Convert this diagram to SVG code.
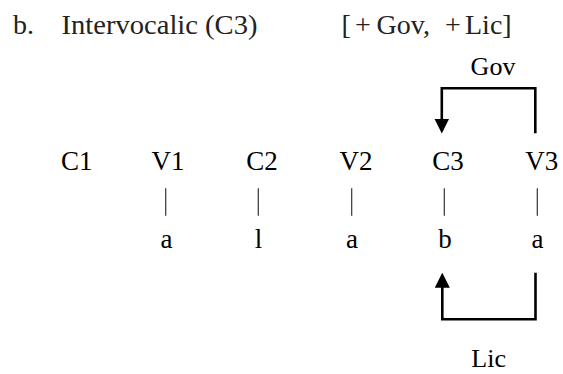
<svg xmlns="http://www.w3.org/2000/svg" width="563" height="374" viewBox="0 0 563 374">
  <style>
    .hdr { font-family: "Liberation Serif", "Times New Roman", serif; font-size: 28px; fill: #222; }
    .lbl { font-family: "Liberation Serif", "Times New Roman", serif; font-size: 27px; fill: #000; text-anchor: middle; }
    .tag { font-family: "Liberation Serif", "Times New Roman", serif; font-size: 26px; fill: #000; text-anchor: middle; }
    .bar { stroke: #333; stroke-width: 1.2; fill: none; }
    .arc { stroke: #000; stroke-width: 2.6; fill: none; stroke-linejoin: miter; }
  </style>
  <defs>
    <marker id="head" markerUnits="userSpaceOnUse" markerWidth="15" markerHeight="15" viewBox="0 0 15 15" refX="11" refY="7.5" orient="auto">
      <path d="M0,0 L15,7.5 L0,15 z" fill="#000"/>
    </marker>
  </defs>
  <rect width="563" height="374" fill="#fff"/>

  <g id="header">
    <text class="hdr" x="13" y="33.5">b.</text>
    <text class="hdr" x="61.5" y="33.5" textLength="196" lengthAdjust="spacingAndGlyphs">Intervocalic (C3)</text>
    <text class="hdr" y="33.5"><tspan x="341.5">[</tspan><tspan x="355">+</tspan><tspan x="376.5">Gov,</tspan><tspan x="445">+</tspan><tspan x="465">Lic]</tspan></text>
  </g>

  <g id="node-C1"><text class="lbl" x="76.7" y="170">C1</text></g>
  <g id="node-V1"><text class="lbl" x="168" y="170">V1</text><text class="lbl" x="166.5" y="248.3">a</text></g>
  <g id="node-C2"><text class="lbl" x="262" y="170">C2</text><text class="lbl" x="258.5" y="248.3">l</text></g>
  <g id="node-V2"><text class="lbl" x="356" y="170">V2</text><text class="lbl" x="352" y="248.3">a</text></g>
  <g id="node-C3"><text class="lbl" x="448" y="170">C3</text><text class="lbl" x="445" y="248.3">b</text></g>
  <g id="node-V3"><text class="lbl" x="541.7" y="170">V3</text><text class="lbl" x="537.5" y="248.3">a</text></g>

  <g id="label-Gov"><text class="tag" x="493" y="75">Gov</text></g>
  <g id="label-Lic"><text class="tag" x="488.7" y="367.3">Lic</text></g>

  <g id="connectors">
    <line class="bar" x1="165.7" y1="188.3" x2="165.7" y2="215.7"/>
    <line class="bar" x1="258.3" y1="188.3" x2="258.3" y2="215.7"/>
    <line class="bar" x1="351.7" y1="188.3" x2="351.7" y2="215.7"/>
    <line class="bar" x1="444.3" y1="188.3" x2="444.3" y2="215.7"/>
    <line class="bar" x1="537.3" y1="188.3" x2="537.3" y2="215.7"/>
    <path id="gov-arrow" class="arc" d="M535.3,133.3 V88.3 H441.8 V129.5" marker-end="url(#head)"/>
    <path id="lic-arrow" class="arc" d="M535.5,272.7 V319.3 H442.3 V276.7" marker-end="url(#head)"/>
  </g>
</svg>
